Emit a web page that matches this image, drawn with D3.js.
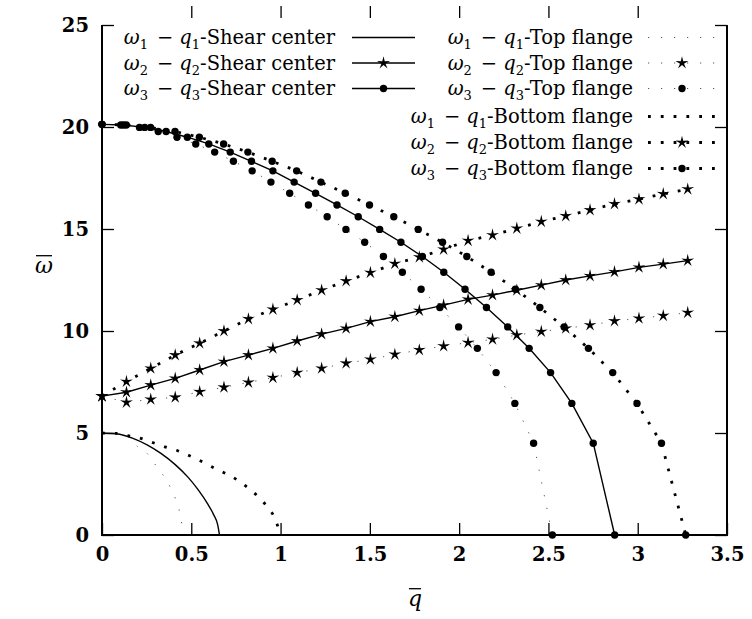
<!DOCTYPE html>
<html>
<head>
<meta charset="utf-8">
<script src="https://cdn.jsdelivr.net/npm/d3@7"></script>
<style>
  body { margin: 0; background: #fff; }
  text { font-family: "DejaVu Serif", serif; fill: #000; }
</style>
</head>
<body>
<script>
// values
var q1Shear = [0, 0.08, 0.17, 0.25, 0.33, 0.41, 0.48, 0.54, 0.59, 0.625, 0.648, 0.658];
var w1Shear = [5.0, 4.96, 4.75, 4.43, 4.0, 3.45, 2.85, 2.2, 1.55, 1.0, 0.5, 0];
var q1Top = [0, 0.07, 0.137, 0.2, 0.257, 0.30, 0.345, 0.384, 0.412, 0.434, 0.447, 0.45];
var w1Top = [5.0, 4.97, 4.85, 4.33, 3.96, 3.43, 2.9, 2.32, 1.76, 1.14, 0.49, 0];
var q1Bot = [0, 0.08, 0.144, 0.217, 0.287, 0.356, 0.427, 0.496, 0.563, 0.63, 0.692, 0.757, 0.821, 0.875, 0.922, 0.965, 0.99, 1.0];
var w1Bot = [5.0, 4.98, 4.87, 4.74, 4.52, 4.31, 4.12, 3.86, 3.58, 3.28, 3.02, 2.70, 2.29, 1.88, 1.42, 0.87, 0.28, 0];

var q2 = [0, 0.137, 0.273, 0.41, 0.547, 0.683, 0.82, 0.957, 1.093, 1.23, 1.367, 1.503, 1.64,
          1.777, 1.913, 2.05, 2.187, 2.323, 2.46, 2.597, 2.733, 2.87, 3.007, 3.143, 3.28];
var w2Shear = [6.81, 7.0, 7.35, 7.68, 8.09, 8.5, 8.82, 9.15, 9.51, 9.85, 10.13, 10.46, 10.7,
               11.0, 11.27, 11.55, 11.76, 12.0, 12.25, 12.5, 12.7, 12.9, 13.12, 13.28, 13.45];
var w2Top = [6.81, 6.5, 6.65, 6.75, 7.02, 7.24, 7.48, 7.71, 7.96, 8.17, 8.42, 8.61, 8.85,
             9.07, 9.26, 9.43, 9.59, 9.8, 9.97, 10.13, 10.29, 10.49, 10.62, 10.75, 10.9];
var w2Bot = [6.81, 7.52, 8.17, 8.82, 9.4, 10.0, 10.59, 11.06, 11.52, 12.0, 12.45, 12.86, 13.3,
             13.62, 14.0, 14.43, 14.7, 15.03, 15.36, 15.64, 15.93, 16.23, 16.46, 16.72, 16.95];

var w3 = [20.13, 20.1, 19.98, 19.78, 19.5, 19.17, 18.77, 18.32, 17.85, 17.3, 16.75, 16.18, 15.6,
          14.98, 14.35, 13.65, 12.88, 12.05, 11.15, 10.2, 9.15, 7.96, 6.45, 4.5, 0];
var q3Shear = [0, 0.12, 0.239, 0.359, 0.478, 0.598, 0.718, 0.837, 0.957, 1.076, 1.196, 1.316, 1.435,
               1.555, 1.674, 1.794, 1.914, 2.033, 2.153, 2.272, 2.392, 2.512, 2.631, 2.751, 2.871];
var q3Top = [0, 0.105, 0.21, 0.315, 0.42, 0.525, 0.631, 0.736, 0.841, 0.946, 1.051, 1.156, 1.261,
             1.366, 1.471, 1.576, 1.682, 1.787, 1.892, 1.997, 2.102, 2.207, 2.312, 2.417, 2.522];
var q3Bot = [0, 0.136, 0.272, 0.409, 0.545, 0.681, 0.817, 0.953, 1.09, 1.226, 1.362, 1.498, 1.634,
             1.771, 1.907, 2.043, 2.179, 2.315, 2.452, 2.588, 2.724, 2.86, 2.996, 3.133, 3.269];

var xTicks = [0, 0.5, 1, 1.5, 2, 2.5, 3, 3.5];
var yTicks = [0, 5, 10, 15, 20, 25];
var sectionNames = ["Shear center", "Top flange", "Bottom flange"];

function zip(qs, ws) { return qs.map(function (q, i) { return [q, ws[i]]; }); }

var series = [
  {n: 1, part: 0, style: "solid", mark: null, pts: zip(q1Shear, w1Shear), smooth: true},
  {n: 2, part: 0, style: "solid", mark: "star", pts: zip(q2, w2Shear)},
  {n: 3, part: 0, style: "solid", mark: "dot", pts: zip(q3Shear, w3)},
  {n: 1, part: 1, style: "thin", mark: null, pts: zip(q1Top, w1Top), smooth: true},
  {n: 2, part: 1, style: "thin", mark: "star", pts: zip(q2, w2Top)},
  {n: 3, part: 1, style: "thin", mark: "dot", pts: zip(q3Top, w3)},
  {n: 1, part: 2, style: "bold", mark: null, pts: zip(q1Bot, w1Bot), smooth: true},
  {n: 2, part: 2, style: "bold", mark: "star", pts: zip(q2, w2Bot)},
  {n: 3, part: 2, style: "bold", mark: "dot", pts: zip(q3Bot, w3)}
];

var W = 752, H = 619;
var plotL = 102, plotR = 727, plotT = 25, plotB = 535;

var x = d3.scaleLinear().domain([0, 3.5]).range([plotL, plotR]);
var y = d3.scaleLinear().domain([0, 25]).range([plotB, plotT]);

var svg = d3.select("body").append("svg")
  .attr("width", W).attr("height", H);

// line styles
function styleLine(sel, style) {
  if (style == "solid") {
    sel.attr("stroke-width", 1.4);
  } else if (style == "thin") {
    sel.attr("stroke-width", 1).attr("stroke", "#555").attr("stroke-dasharray", "1.2,11.8");
  } else {
    sel.attr("stroke-width", 2.8).attr("stroke-dasharray", "2.8,10");
  }
}

function starPath(r1, r2) {
  var p = d3.path();
  for (var i = 0; i < 10; i++) {
    var r = i % 2 ? r2 : r1;
    var a = -Math.PI / 2 + i * Math.PI / 5;
    if (i == 0) p.moveTo(r * Math.cos(a), r * Math.sin(a));
    else p.lineTo(r * Math.cos(a), r * Math.sin(a));
  }
  p.closePath();
  return p.toString();
}
var star = starPath(6.8, 2.1);

function drawMark(g, type, cx, cy) {
  if (type == "star") {
    g.append("path").attr("d", star).attr("transform", "translate(" + cx + "," + cy + ")").attr("fill", "#000");
  } else if (type == "dot") {
    g.append("circle").attr("cx", cx).attr("cy", cy).attr("r", 3.7).attr("fill", "#000");
  }
}

// axes, ticks pointing inward
var xAxis = d3.axisBottom(x).tickValues(xTicks).tickSizeInner(-12).tickSizeOuter(0).tickPadding(12)
  .tickFormat(function (d) { return d; });
var yAxis = d3.axisLeft(y).tickValues(yTicks).tickSizeInner(-12).tickSizeOuter(0).tickPadding(13);

svg.append("g").attr("transform", "translate(0," + plotB + ")").call(xAxis);
svg.append("g").attr("transform", "translate(" + plotL + ",0)").call(yAxis);
// mirrored ticks on top (the top border line itself is not drawn in the reference)
svg.append("g").attr("transform", "translate(0,6)")
  .call(d3.axisTop(x).tickValues(xTicks.slice(1, -1)).tickSizeInner(-12).tickSizeOuter(0).tickFormat(""));
svg.append("g").attr("transform", "translate(" + plotR + ",0)")
  .call(d3.axisRight(y).tickValues(yTicks).tickSizeInner(-12).tickSizeOuter(0).tickFormat(""));

svg.selectAll(".domain").remove();
svg.selectAll(".tick line").attr("stroke", "#000").attr("stroke-width", 1.3);
svg.selectAll(".tick text").attr("font-size", 19.5).attr("font-weight", "bold")
  .style("font-family", "'DejaVu Serif', serif");

// frame
svg.append("path")
  .attr("d", "M" + plotL + "," + plotT + "V" + plotB + "H" + plotR + "V" + plotT)
  .attr("fill", "none").attr("stroke", "#000").attr("stroke-width", 2);

// curves
var plot = svg.append("g");
series.forEach(function (s) {
  var line = d3.line().x(function (d) { return x(d[0]); }).y(function (d) { return y(d[1]); })
    .curve(s.smooth ? d3.curveMonotoneX : d3.curveLinear);
  var p = plot.append("path").datum(s.pts).attr("d", line)
    .attr("fill", "none").attr("stroke", "#000");
  styleLine(p, s.style);
});
series.forEach(function (s) {
  if (!s.mark) return;
  s.pts.forEach(function (d) { drawMark(plot, s.mark, x(d[0]), y(d[1])); });
});

// legend
function label(t, n, name) {
  t.append("tspan").attr("font-style", "italic").text("ω");
  t.append("tspan").attr("font-size", 13).attr("dy", 5).text(n);
  t.append("tspan").attr("dy", -5).attr("dx", 9).text("−");
  t.append("tspan").attr("font-style", "italic").attr("dx", 6).text("q");
  t.append("tspan").attr("font-size", 13).attr("dy", 5).text(n);
  t.append("tspan").attr("dy", -5).text("-" + name);
}

var legendRows = [37.5, 63, 88.5, 116.5, 142.5, 168.5];
var leg = svg.append("g");
series.forEach(function (s) {
  var col, row;
  if (s.part == 0) { col = 0; row = s.n - 1; }
  else { col = 1; row = (s.part - 1) * 3 + s.n - 1; }
  var tx = col == 0 ? 335 : 633;
  var x0 = col == 0 ? 352 : 648, x1 = col == 0 ? 415 : 716;
  var ry = legendRows[row];
  var t = leg.append("text").attr("x", tx).attr("y", ry).attr("dy", "0.35em")
    .attr("text-anchor", "end").attr("font-size", 19.5);
  label(t, s.n, sectionNames[s.part]);
  var ln = leg.append("line").attr("x1", x0).attr("x2", x1).attr("y1", ry).attr("y2", ry)
    .attr("stroke", "#000");
  styleLine(ln, s.style);
  drawMark(leg, s.mark, (x0 + x1) / 2, ry);
});

// axis titles with an overbar
function barTitle(cx, cy, ch) {
  var t = svg.append("text").attr("x", cx).attr("y", cy).attr("dy", "0.35em")
    .attr("text-anchor", "middle").attr("font-size", 22).attr("font-style", "italic").text(ch);
  var b = t.node().getBBox();
  svg.append("line").attr("x1", b.x + 1).attr("x2", b.x + b.width - 1)
    .attr("y1", b.y + 3).attr("y2", b.y + 3).attr("stroke", "#000").attr("stroke-width", 1.3);
}
barTitle(44, 265, "ω");
barTitle(415, 598, "q");
</script>
</body>
</html>
